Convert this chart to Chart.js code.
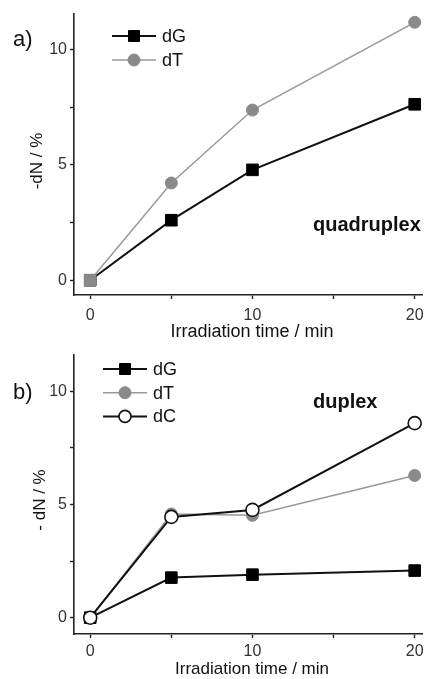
<!DOCTYPE html>
<html>
<head>
<meta charset="utf-8">
<script src="https://cdn.jsdelivr.net/npm/chart.js@4.4.1/dist/chart.umd.min.js"></script>
<style>
  html,body{margin:0;padding:0;background:#fff;}
  .box{position:absolute;left:0;width:433px;}
  #boxA{top:0;height:340px;}
  #boxB{top:340px;height:339px;}
</style>
</head>
<body>
<div class="box" id="boxA"><canvas id="chartA"></canvas></div>
<div class="box" id="boxB"><canvas id="chartB"></canvas></div>
<script>
// ── data ─────────────────────────────────────────────
const TIMES = [0, 5, 10, 20];              // min
const X_TICKS = [0, 5, 10, 15, 20];
const X_LABELS = ['0', '', '10', '', '20'];
const Y_TICKS = [0, 2.5, 5, 7.5, 10];
const Y_LABELS = ['0', '', '5', '', '10'];

// a) quadruplex
const QUAD_DG = [0, 2.6, 4.78, 7.62];
const QUAD_DT = [0, 4.21, 7.37, 11.17];
// b) duplex
const DUP_DG = [0, 1.77, 1.9, 2.08];
const DUP_DT = [0, 4.58, 4.52, 6.28];
const DUP_DC = [0, 4.45, 4.76, 8.59];

const FONT = '"Liberation Sans", Arial, sans-serif';
const pts = arr => arr.map((y,i)=>({x:TIMES[i], y}));

// draws panel letter, axis titles, annotation and in-plot legend
const extras = {
  id:'extras',
  afterDraw(chart, args, o) {
    const {ctx} = chart;
    ctx.save();
    ctx.fillStyle = '#111';
    ctx.textBaseline = 'middle';
    // panel letter
    ctx.font = '22px '+FONT; ctx.textAlign = 'left';
    ctx.fillText(o.letter, 13, o.letterY);
    // x title
    ctx.font = o.xFont+'px '+FONT; ctx.textAlign = 'center';
    ctx.fillText('Irradiation time / min', 252, o.xTitleY, o.xTitleW);
    // y title
    ctx.save();
    ctx.translate(o.yTitleX, o.yTitleY); ctx.rotate(-Math.PI/2);
    ctx.font = '17px '+FONT;
    ctx.fillText(o.yTitle, 0, 0);
    ctx.restore();
    // annotation
    ctx.font = 'bold 20px '+FONT; ctx.textAlign = 'left';
    ctx.fillText(o.note, 313, o.noteY, o.noteW);
    // legend
    ctx.font = '18px '+FONT;
    chart.data.datasets.forEach((ds, i) => {
      const y = o.legY + i*o.legDy;
      ctx.strokeStyle = ds.borderColor; ctx.lineWidth = ds.borderWidth;
      ctx.beginPath(); ctx.moveTo(o.legX, y); ctx.lineTo(o.legX+44, y); ctx.stroke();
      const cx = o.legX+22;
      ctx.fillStyle = ds.pointBackgroundColor; ctx.strokeStyle = ds.pointBorderColor;
      ctx.lineWidth = ds.pointBorderWidth;
      ctx.beginPath();
      if (ds.legendStyle==='rect') ctx.rect(cx-5.5, y-5.5, 11, 11);
      else ctx.arc(cx, y, 6, 0, Math.PI*2);
      ctx.fill(); ctx.stroke();
      ctx.fillStyle = '#111';
      ctx.fillText(ds.label, o.legX+50, y+1);
    });
    ctx.restore();
  }
};

function axes(yMin, yMax, xPad) {
  const common = {
    border:{color:'#222', width:1.6},
    grid:{drawOnChartArea:false, tickLength:4, tickColor:'#222', tickWidth:1.4},
    ticks:{color:'#333', font:{family:FONT, size:16}, padding:3, autoSkip:false, maxRotation:0}
  };
  return {
    x:{type:'linear', min:-1, max:20.45, ...common,
      afterBuildTicks:s=>{ s.ticks = X_TICKS.map(v=>({value:v})); },
      ticks:{...common.ticks, padding:xPad, callback:(v,i)=>X_LABELS[i]},
      afterFit:s=>{ s.height = 45; }},
    y:{type:'linear', min:yMin, max:yMax, ...common,
      afterBuildTicks:s=>{ s.ticks = Y_TICKS.map(v=>({value:v})); },
      ticks:{...common.ticks, callback:(v,i)=>Y_LABELS[i]},
      afterFit:s=>{ s.width = 74; }}
  };
}

const SQUARE = {pointStyle:'rect', pointRadius:8.2, pointBackgroundColor:'#000', pointBorderColor:'#000', pointBorderWidth:1, legendStyle:'rect'};

new Chart(document.getElementById('chartA'), {
  type:'line',
  data:{datasets:[
    {label:'dG', data:pts(QUAD_DG), borderColor:'#111', borderWidth:2, order:1, ...SQUARE},
    {label:'dT', data:pts(QUAD_DT), borderColor:'#999', borderWidth:1.5, order:0,
      pointStyle:c=>c.dataIndex===0?'rect':'circle', pointRadius:c=>c.dataIndex===0?8.2:6,
      pointBackgroundColor:'#8a8a8a', pointBorderColor:'#8a8a8a', pointBorderWidth:1, legendStyle:'circle'}
  ]},
  options:{responsive:true, maintainAspectRatio:false, animation:false,
    layout:{padding:{left:0, top:14, right:11, bottom:0}},
    plugins:{legend:{display:false}, tooltip:{enabled:false},
      extras:{letter:'a)', letterY:40, xFont:18, xTitleY:332, xTitleW:194,
        yTitle:'-dN / %', yTitleX:37, yTitleY:161, note:'quadruplex', noteY:225, noteW:116,
        legX:112, legY:36, legDy:24}},
    scales:axes(-0.64, 11.53, 7)},
  plugins:[extras]
});

new Chart(document.getElementById('chartB'), {
  type:'line',
  data:{datasets:[
    {label:'dG', data:pts(DUP_DG), borderColor:'#111', borderWidth:2, order:2, ...SQUARE},
    {label:'dT', data:pts(DUP_DT), borderColor:'#999', borderWidth:1.5, order:1,
      pointStyle:'circle', pointRadius:6, pointBackgroundColor:'#8a8a8a', pointBorderColor:'#8a8a8a',
      pointBorderWidth:1, legendStyle:'circle'},
    {label:'dC', data:pts(DUP_DC), borderColor:'#111', borderWidth:2, order:0,
      pointStyle:'circle', pointRadius:6.5, pointBackgroundColor:'#fff', pointBorderColor:'#111',
      pointBorderWidth:1.6, legendStyle:'circle'}
  ]},
  options:{responsive:true, maintainAspectRatio:false, animation:false,
    layout:{padding:{left:0, top:15, right:11, bottom:0}},
    plugins:{legend:{display:false}, tooltip:{enabled:false},
      extras:{letter:'b)', letterY:53, xFont:17, xTitleY:329, xTitleW:161,
        yTitle:'- dN / %', yTitleX:40, yTitleY:160, note:'duplex', noteY:62, noteW:70,
        legX:103, legY:29, legDy:23.7}},
    scales:axes(-0.72, 11.6, 4)},
  plugins:[extras]
});
</script>
</body>
</html>
